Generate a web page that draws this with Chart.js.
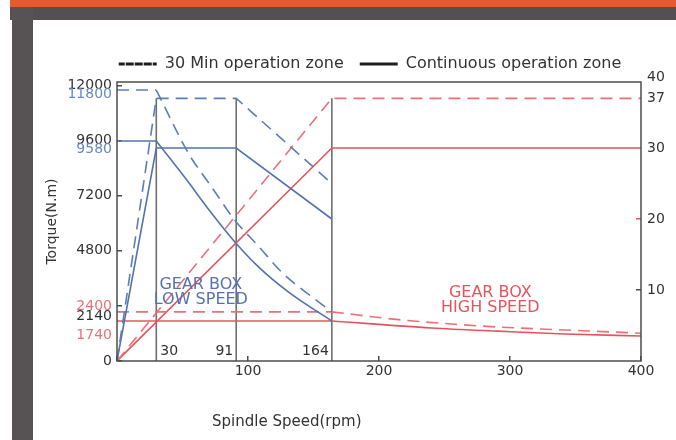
<!DOCTYPE html>
<html>
<head>
<meta charset="utf-8">
<script src="https://cdn.jsdelivr.net/npm/chart.js@4.4.1/dist/chart.umd.min.js"></script>
<style>
  html, body { margin: 0; padding: 0; background: #fff; }
  body { width: 676px; height: 440px; position: relative; overflow: hidden; }
  #topBar { position: absolute; left: 10px; top: 0; right: 0; height: 7px; background: #e85a2e; }
  #band { position: absolute; left: 10px; top: 7px; right: 0; height: 13px; background: #545051; }
  #side { position: absolute; left: 12px; top: 7px; width: 21px; bottom: 0; background: #575354; }
  #wrap { position: absolute; left: 33px; top: 20px; width: 643px; height: 420px; }
</style>
</head>
<body>
<div id="topBar"></div>
<div id="band"></div>
<div id="side"></div>
<div id="wrap"><canvas id="torqueChart" width="643" height="420"></canvas></div>
<script>
// gear box low speed - torque (N.m)
const lowT30Rpm = [0, 30, 55, 72, 89, 108, 126, 144, 164];
const lowT30Nm = [11800, 11800, 9000, 7600, 6200, 5000, 3850, 3000, 2140];
const lowTcRpm = [0, 30, 53, 70, 89, 108, 131, 164];
const lowTcNm = [9580, 9580, 7900, 6600, 5250, 4100, 3000, 1740];
// gear box low speed - power (kW)
const lowPowerRpm = [0, 30, 91, 164];
const lowP30Kw = [0, 37, 37, 25];
const lowPcKw = [0, 30, 30, 20];
// gear box high speed - torque (N.m)
const highT30Rpm = [0, 164, 215, 253, 291, 342, 400];
const highT30Nm = [2140, 2140, 1800, 1620, 1480, 1350, 1210];
const highTcRpm = [0, 164, 240, 291, 342, 400];
const highTcNm = [1740, 1740, 1440, 1300, 1175, 1090];
// gear box high speed - power (kW)
const highPowerRpm = [0, 164, 400];
const highP30Kw = [0, 37, 37];
const highPcKw = [0, 30, 30];
// vertical guides
const guideRpm = [30, 91, 164];
const guideKw = [37, 37, 37];

// ticks
const speedTicks = [0, 100, 200, 300, 400];
const torqueTicks = [0, 2400, 4800, 7200, 9600, 12000];
const torqueMarks = [11800, 9580, 2140, 1740];
const powerTicks = [10, 20, 30, 37, 40];
const speedMarks = [30, 91, 164];

const blue = "#5473ad";
const blueDash = "#5d7db5";
const red = "#e4545e";
const redDash = "#eb7077";
const guideColor = "#6f6f6f";
const frameColor = "#4d4d4d";
const textColor = "#333333";
const torqueMarkColors = ["#6a88c0", "#6a88c0", "#333333", "#e8707a"];
const torqueMarkNudge = [4, 8, 5, 14];
const speedMarkAlign = ["left", "right", "right"];
const dash = [12, 7];
const font = "'DejaVu Sans', sans-serif";

function pts(xs, ys) {
  return xs.map((x, i) => ({ x: x, y: ys[i] }));
}

const guideData = [];
guideRpm.forEach((r, i) => {
  guideData.push({ x: r, y: 0 }, { x: r, y: guideKw[i] }, { x: r, y: null });
});

function line(data, color, dashed, axis, curved) {
  return {
    data: data,
    borderColor: color,
    borderWidth: 1.6,
    borderDash: dashed ? dash : [],
    pointRadius: 0,
    fill: false,
    yAxisID: axis,
    cubicInterpolationMode: curved ? "monotone" : "default",
    spanGaps: false,
  };
}

// constant torque part is straight, the falling part is smoothed
function torqueLines(xs, ys, color, dashed) {
  const all = pts(xs, ys);
  return [line(all.slice(0, 2), color, dashed, "y", false), line(all.slice(1), color, dashed, "y", true)];
}

const decorations = {
  id: "decorations",
  afterDatasetsDraw(chart) {
    const { ctx, chartArea: area, scales } = chart;
    const x = scales.x;
    const y = scales.y;
    ctx.save();
    ctx.strokeStyle = frameColor;
    ctx.lineWidth = 1.5;
    ctx.strokeRect(area.left, area.top, area.right - area.left, area.bottom - area.top);

    ctx.font = "14px " + font;
    ctx.textBaseline = "middle";
    ctx.textAlign = "right";
    torqueMarks.forEach((v, i) => {
      ctx.fillStyle = torqueMarkColors[i];
      ctx.fillText(String(v), area.left - 5, y.getPixelForValue(v) + torqueMarkNudge[i]);
    });

    ctx.fillStyle = textColor;
    speedMarks.forEach((v, i) => {
      ctx.textAlign = speedMarkAlign[i];
      const px = x.getPixelForValue(v) + (speedMarkAlign[i] == "left" ? 4 : -3);
      ctx.fillText(String(v), px, area.bottom - 10);
    });

    ctx.font = "16px " + font;
    ctx.textAlign = "center";
    ctx.fillStyle = blue;
    let gx = x.getPixelForValue(64);
    let gy = y.getPixelForValue(3000);
    ctx.fillText("GEAR BOX", gx, gy - 7);
    ctx.fillText("LOW SPEED", gx, gy + 8);
    ctx.fillStyle = red;
    gx = x.getPixelForValue(285);
    gy = y.getPixelForValue(2670);
    ctx.fillText("GEAR BOX", gx, gy - 7);
    ctx.fillText("HIGH SPEED", gx, gy + 8);

    ctx.fillStyle = textColor;
    ctx.font = "15px " + font;
    ctx.fillText("Spindle Speed(rpm)", area.left + (area.right - area.left) * 0.324, area.bottom + 61);
    ctx.translate(19, (area.top + area.bottom) / 2);
    ctx.rotate(-Math.PI / 2);
    ctx.font = "14px " + font;
    ctx.fillText("Torque(N.m)", 0, 0);
    ctx.restore();
  },
};

const ctx = document.getElementById("torqueChart").getContext("2d");
const chart = new Chart(ctx, {
  type: "line",
  data: {
    datasets: [
      ...torqueLines(lowT30Rpm, lowT30Nm, blueDash, true),
      ...torqueLines(lowTcRpm, lowTcNm, blue, false),
      line(pts(lowPowerRpm, lowP30Kw), blueDash, true, "y1", false),
      line(pts(lowPowerRpm, lowPcKw), blue, false, "y1", false),
      ...torqueLines(highT30Rpm, highT30Nm, redDash, true),
      ...torqueLines(highTcRpm, highTcNm, red, false),
      line(pts(highPowerRpm, highP30Kw), redDash, true, "y1", false),
      line(pts(highPowerRpm, highPcKw), red, false, "y1", false),
      line(guideData, guideColor, false, "y1", false),
    ],
  },
  options: {
    responsive: false,
    animation: false,
    devicePixelRatio: 1,
    layout: { padding: { top: 20, left: 31, right: 0, bottom: 0 } },
    plugins: {
      tooltip: { enabled: false },
      legend: {
        display: true,
        position: "top",
        labels: {
          font: { family: font, size: 16 },
          color: textColor,
          boxWidth: 38,
          boxHeight: 0,
          padding: 16,
          generateLabels: () => [
            { text: "30 Min operation zone", strokeStyle: "#1e1e1e", fillStyle: "rgba(0,0,0,0)", lineWidth: 3, lineDash: [6, 3], hidden: false, fontColor: textColor },
            { text: "Continuous operation zone", strokeStyle: "#1e1e1e", fillStyle: "rgba(0,0,0,0)", lineWidth: 3, lineDash: [], hidden: false, fontColor: textColor },
          ],
        },
      },
    },
    scales: {
      x: {
        type: "linear",
        min: 0,
        max: 400,
        afterBuildTicks: (axis) => { axis.ticks = speedTicks.map((v) => ({ value: v })); },
        afterFit: (axis) => { axis.height = 79; },
        border: { display: false },
        grid: { drawOnChartArea: false, tickLength: -5, color: frameColor, lineWidth: 1.5 },
        ticks: {
          padding: 7,
          color: textColor,
          font: { family: font, size: 14 },
          maxRotation: 0,
          autoSkip: false,
          callback: (v) => (v === 0 ? "" : String(v)),
        },
      },
      y: {
        position: "left",
        min: 0,
        max: 12150,
        afterBuildTicks: (axis) => { axis.ticks = torqueTicks.map((v) => ({ value: v })); },
        afterFit: (axis) => { axis.width = 53; },
        border: { display: false },
        grid: { drawOnChartArea: false, tickLength: -5, color: frameColor, lineWidth: 1.5 },
        ticks: {
          padding: 10,
          autoSkip: false,
          font: { family: font, size: 14 },
          callback: (v) => String(v),
          color: (c) => (c.tick && c.tick.value === 2400 ? "#e8707a" : textColor),
        },
      },
      y1: {
        position: "right",
        min: 0,
        max: 39.3,
        afterBuildTicks: (axis) => { axis.ticks = powerTicks.map((v) => ({ value: v })); },
        afterFit: (axis) => { axis.width = 35; },
        border: { display: false },
        grid: {
          drawOnChartArea: false,
          tickLength: -5,
          lineWidth: 1.5,
          tickColor: (c) => {
            if (!c.tick) return "rgba(0,0,0,0)";
            if (c.tick.value === 20) return red;
            if (c.tick.value === 10) return frameColor;
            return "rgba(0,0,0,0)";
          },
        },
        ticks: {
          padding: 11,
          autoSkip: false,
          font: { family: font, size: 14 },
          callback: (v) => String(v),
          color: textColor,
        },
      },
    },
  },
  plugins: [decorations],
});
</script>
</body>
</html>
